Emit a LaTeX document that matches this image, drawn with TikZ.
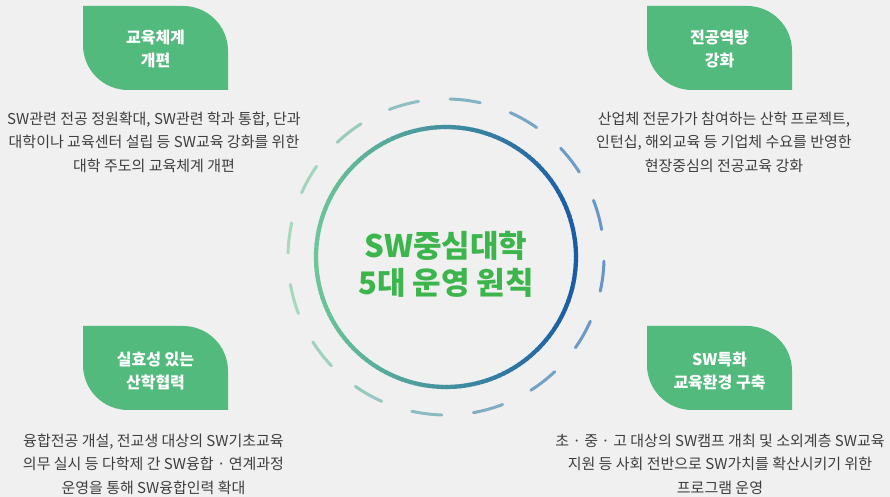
\documentclass[tikz,border=0pt]{standalone}
\usepackage{fontspec}
\setmainfont{Noto Sans CJK KR}
\definecolor{bgc}{HTML}{EFF0EF}
\definecolor{leafc}{HTML}{52BA7C}
\definecolor{titc}{HTML}{3BB54C}
\definecolor{descc}{HTML}{3E3E3E}
\definecolor{cgreen}{HTML}{6CC697}
\definecolor{cblue}{HTML}{1A5BA6}
\definecolor{dgreen}{HTML}{A6D9BC}
\definecolor{dblue}{HTML}{6795C9}
\newcommand\leafshape[2]{\fill[leafc] (#1,#2) -- ++(100,0) arc[start angle=90,end angle=0,radius=45] -- ++(0,-39) -- ++(-100,0) arc[start angle=270,end angle=180,radius=45] -- cycle;}
\begin{document}
\begin{tikzpicture}[x=1pt,y=1pt,
  leaftitle/.style={text=white,align=center,font=\fontsize{16}{23}\selectfont\bfseries,inner sep=0pt},
  desc/.style={text=descc,align=center,font=\fontsize{15}{23.5}\selectfont,inner sep=0pt},
  centertext/.style={text=titc,align=center,font=\fontsize{31}{37}\selectfont\bfseries,inner sep=0pt}]
\fill[bgc] (0,0) rectangle (890,497);
\useasboundingbox (0,0) rectangle (890,497);
% leaves
\leafshape{83}{491}
\leafshape{647}{491}
\leafshape{83}{171}
\leafshape{647}{171}
\node[leaftitle] (t1) at (155.5,447.5) {교육체계\\개편};
\node[leaftitle] (t2) at (719.5,447.5) {전공역량\\강화};
\node[leaftitle] (t3) at (155.5,126) {실효성 있는\\산학협력};
\node[leaftitle] (t4) at (719.5,126) {SW특화\\교육환경 구축};
% descriptions
\node[desc] (d1) at (154,355) {SW관련 전공 정원확대, SW관련 학과 통합, 단과\\대학이나 교육센터 설립 등 SW교육 강화를 위한\\대학 주도의 교육체계 개편};
\node[desc] (d2) at (724,355) {산업체 전문가가 참여하는 산학 프로젝트,\\인턴십, 해외교육 등 기업체 수요를 반영한\\현장중심의 전공교육 강화};
\node[desc] (d3) at (153.5,33) {융합전공 개설, 전교생 대상의 SW기초교육\\의무 실시 등 다학제 간 SW융합 · 연계과정\\운영을 통해 SW융합인력 확대};
\node[desc] (d4) at (720,33) {초 · 중 · 고 대상의 SW캠프 개최 및 소외계층 SW교육\\지원 등 사회 전반으로 SW가치를 확산시키기 위한\\프로그램 운영};
% inner gradient circle
\coordinate (cc) at (446,240);
\foreach \a in {0,2,...,358}{
  \pgfmathsetmacro\pp{50+50*cos(\a)}
  \colorlet{tmpc}{cblue!\pp!cgreen}
  \draw[tmpc,line width=4.2] ([shift={(\a:130)}]cc) arc[start angle=\a,end angle=\a+2.6,radius=130];
}
% outer dashed circle
\foreach \k in {0,...,15}{
  \pgfmathsetmacro\cang{83-22.5*\k}
  \pgfmathsetmacro\pp{50+50*cos(\cang)}
  \colorlet{tmpc}{dblue!\pp!dgreen}
  \draw[tmpc,line width=3,line cap=round] ([shift={({\cang-5.5}:158)}]cc) arc[start angle={\cang-5.5},end angle={\cang+5.5},radius=158];
}
\node[centertext] (ct) at (446,232.5) {SW중심대학\\5대 운영 원칙};
\end{tikzpicture}
\end{document}
